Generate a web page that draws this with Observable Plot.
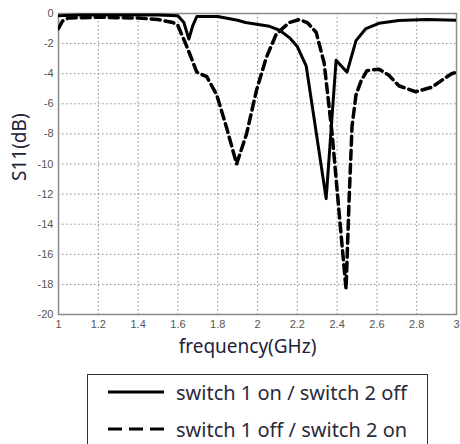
<!DOCTYPE html>
<html><head><meta charset="utf-8">
<script src="https://cdn.jsdelivr.net/npm/d3@7"></script>
<script src="https://cdn.jsdelivr.net/npm/@observablehq/plot@0.6"></script>
<style>
body{margin:0;background:#fff;width:460px;height:444px;overflow:hidden;position:relative;font-family:"Noto Sans",sans-serif;}
#chart{position:absolute;left:0;top:0;}
#legend{position:absolute;left:87px;top:374px;width:341px;height:80px;border:1.5px solid #333;box-sizing:border-box;background:#fff;}
.row{position:absolute;left:0;height:30px;display:flex;align-items:center;}
.row svg{margin-left:20px;margin-right:12px;}
.row span{font-size:20px;color:#2a2a3a;white-space:nowrap;}
</style></head>
<body>
<div id="chart"></div>
<div id="legend"></div>
<script>
const freqOn = [1.0,1.1,1.3,1.5,1.6,1.63,1.655,1.675,1.695,1.8,1.9,1.94,2.06,2.11,2.16,2.2,2.245,2.345,2.395,2.45,2.495,2.545,2.61,2.71,2.85,3.0];
const s11On  = [-0.15,-0.1,-0.1,-0.1,-0.15,-0.6,-1.7,-0.8,-0.2,-0.2,-0.45,-0.6,-0.85,-1.1,-1.6,-2.2,-3.5,-12.3,-3.1,-3.9,-1.8,-1.0,-0.65,-0.47,-0.4,-0.45];
const freqOff = [1.0,1.02,1.05,1.2,1.4,1.5,1.575,1.6,1.645,1.695,1.745,1.795,1.845,1.895,1.945,1.995,2.045,2.095,2.16,2.21,2.25,2.295,2.335,2.375,2.42,2.445,2.46,2.475,2.495,2.52,2.55,2.61,2.66,2.71,2.795,2.875,2.975,3.0];
const s11Off  = [-1.0,-0.5,-0.3,-0.25,-0.3,-0.4,-0.6,-0.8,-2.2,-3.9,-4.2,-5.4,-7.6,-10.0,-8.0,-5.1,-2.9,-1.35,-0.6,-0.4,-0.6,-1.25,-3.3,-8.0,-14.7,-18.3,-12.5,-7.5,-5.4,-4.5,-3.8,-3.7,-4.1,-4.8,-5.2,-4.9,-4.0,-3.9];
const xTicks = [1,1.2,1.4,1.6,1.8,2,2.2,2.4,2.6,2.8,3];
const yTicks = [0,-2,-4,-6,-8,-10,-12,-14,-16,-18,-20];
const seriesNames = ["switch 1 on / switch 2 off","switch 1 off / switch 2 on"];

const dOn = freqOn.map((f,i)=>({f, v:s11On[i]}));
const dOff = freqOff.map((f,i)=>({f, v:s11Off[i]}));

const gridStyle = {stroke:"#8a8a8a", strokeOpacity:1, strokeDasharray:"1.5,2.5", strokeWidth:1};
const plot = Plot.plot({
  width:460, height:360,
  marginLeft:58, marginRight:4, marginTop:13, marginBottom:46,
  style:{fontFamily:"'Liberation Sans', Arial, sans-serif", fontSize:"11px", color:"#555", background:"#fff", overflow:"visible"},
  x:{domain:[1,3]},
  y:{domain:[-20,0]},
  marks:[
    Plot.gridX(xTicks, gridStyle),
    Plot.gridY(yTicks, gridStyle),
    Plot.frame({stroke:"#8a8a8a", strokeWidth:1.5}),
    Plot.axisX(xTicks, {tickSize:0, tickPadding:6, label:null, tickFormat:d=>String(d)}),
    Plot.axisY(yTicks, {tickSize:0, tickPadding:5, label:null, tickFormat:d=>String(d)}),
    Plot.text(["frequency(GHz)"], {frameAnchor:"bottom", dx:-10, dy:38, fontSize:19, fill:"#22223a", fontFamily:"'Noto Sans', sans-serif"}),
    Plot.text(["S11(dB)"], {frameAnchor:"left", dx:-39, dy:17, rotate:-90, fontSize:19, fill:"#22223a", fontFamily:"'Noto Sans', sans-serif"}),
    Plot.line(dOff, {x:"f", y:"v", stroke:"#000", strokeWidth:3.5, strokeDasharray:"9,5", clip:true}),
    Plot.line(dOn, {x:"f", y:"v", stroke:"#000", strokeWidth:3, clip:true})
  ]
});
document.getElementById("chart").appendChild(plot);

const legend = document.getElementById("legend");
seriesNames.forEach((name,i)=>{
  const row = document.createElement("div");
  row.className = "row";
  row.style.top = (i===0 ? 2 : 39) + "px";
  row.innerHTML = `<svg width="56" height="10"><line x1="0" y1="5" x2="56" y2="5" stroke="#000" stroke-width="3" ${i===1?'stroke-dasharray="14,7"':''}/></svg><span>${name}</span>`;
  legend.appendChild(row);
});
</script>
</body></html>
